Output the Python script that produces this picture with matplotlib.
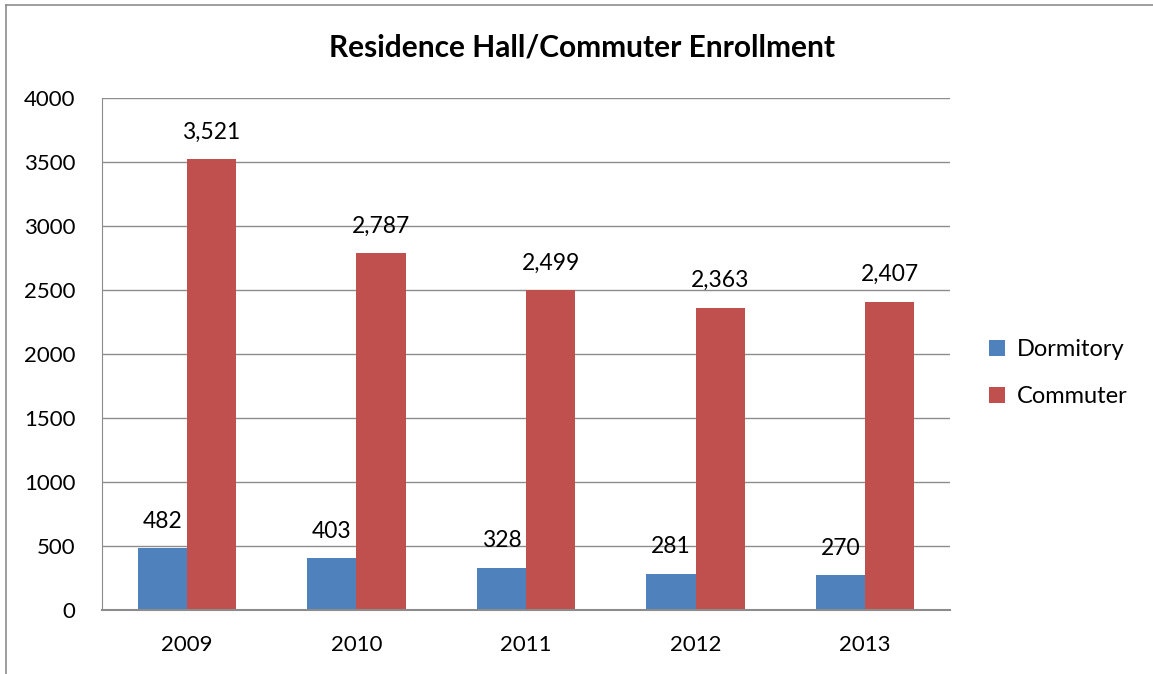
import numpy as np
import matplotlib.pyplot as plt

years = ['2009', '2010', '2011', '2012', '2013']
dormitory = [482, 403, 328, 281, 270]
commuter = [3521, 2787, 2499, 2363, 2407]

plt.rcParams['font.family'] = ['Lato', 'DejaVu Sans']

fig = plt.figure(figsize=(11.53, 6.74), dpi=100)
W, H = 1153, 674
ax = fig.add_axes([102 / W, 1 - 610 / H, 848 / W, 512 / H])

x = np.arange(len(years))
w = 0.29
b1 = ax.bar(x - w / 2, dormitory, w, color='#4f81bd', label='Dormitory')
b2 = ax.bar(x + w / 2, commuter, w, color='#c0504d', label='Commuter')

for bars, vals in ((b1, dormitory), (b2, commuter)):
    for rect, v in zip(bars, vals):
        ax.annotate(f'{v:,}', (rect.get_x() + rect.get_width() / 2, v),
                    xytext=(0, 12), textcoords='offset points',
                    ha='center', va='bottom', fontsize=16.5)

ax.set_xlim(-0.5, len(years) - 0.5)
ax.set_ylim(0, 4000)
ax.set_yticks(range(0, 4001, 500))
ax.set_xticks(x)
ax.set_xticklabels(years)
ax.tick_params(axis='both', labelsize=16, labelcolor='black')
ax.tick_params(axis='y', length=0, pad=19)
ax.tick_params(axis='x', length=0, pad=18)
ax.yaxis.grid(True, color='#8c8c8c', linewidth=1)
ax.set_axisbelow(True)
for s in ('top', 'right'):
    ax.spines[s].set_visible(False)
ax.spines['left'].set_color('#8c8c8c')
ax.spines['bottom'].set_color('#8c8c8c')
ax.spines['bottom'].set_linewidth(1.5)

fig.text(582 / W, 1 - 47 / H, 'Residence Hall/Commuter Enrollment',
         ha='center', va='center', fontsize=21.5, fontweight='bold')

leg = fig.legend(handles=[b1, b2], loc='center left',
                 bbox_to_anchor=(968 / W, 1 - 373 / H), frameon=False,
                 fontsize=17, handlelength=0.65, handleheight=0.65,
                 labelspacing=1.1, handletextpad=0.5)

# outer chart border (cropped on right and bottom)
fig.add_artist(plt.Line2D([6 / W, 6 / W], [0, 1 - 5 / H], color='#8c8c8c', lw=1.2))
fig.add_artist(plt.Line2D([6 / W, 1], [1 - 5 / H, 1 - 5 / H], color='#8c8c8c', lw=1.2))

fig.savefig('out.png', dpi=100)
